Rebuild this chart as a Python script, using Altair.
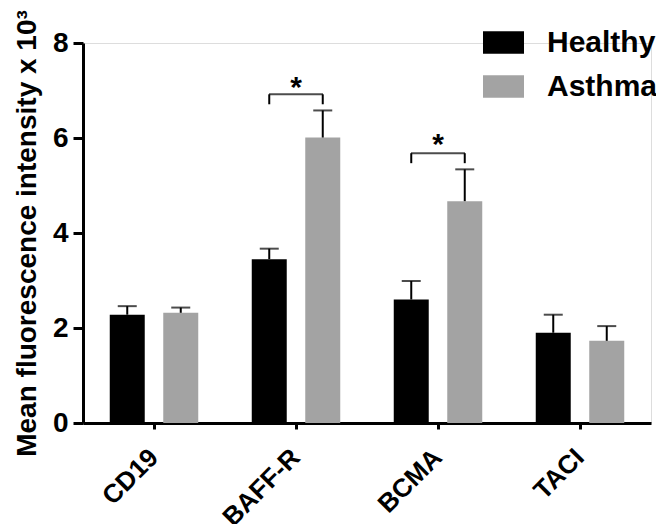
import altair as alt
import pandas as pd

categories = ["CD19", "BAFF-R", "BCMA", "TACI"]
groups = ["Healthy", "Asthma"]
healthy_mean = [2.28, 3.45, 2.60, 1.90]
healthy_err = [0.18, 0.22, 0.39, 0.38]
asthma_mean = [2.32, 6.01, 4.67, 1.73]
asthma_err = [0.11, 0.57, 0.67, 0.31]

sig_categories = ["BAFF-R", "BCMA"]
bracket_top = [6.92, 5.68]
bracket_bottom = [6.71, 5.47]
star_y = [7.22, 6.03]

rows = []
for i, c in enumerate(categories):
    rows.append({"category": c, "group": "Healthy", "mean": healthy_mean[i],
                 "upper": healthy_mean[i] + healthy_err[i]})
    rows.append({"category": c, "group": "Asthma", "mean": asthma_mean[i],
                 "upper": asthma_mean[i] + asthma_err[i]})
df = pd.DataFrame(rows)

leg_rows = []
for i, c in enumerate(sig_categories):
    for g in groups:
        leg_rows.append({"category": c, "group": g, "top": bracket_top[i], "bottom": bracket_bottom[i]})
legs = pd.DataFrame(leg_rows)
bars_df = pd.DataFrame({"category": sig_categories, "top": bracket_top})
stars_df = pd.DataFrame({"category": sig_categories, "star": star_y, "label": ["*", "*"]})

FONT = "Liberation Sans"
TITLE = "Mean fluorescence intensity x 10³"

x_enc = alt.X(
    "category:N", sort=categories,
    scale=alt.Scale(paddingInner=0, paddingOuter=0),
    axis=alt.Axis(title=None, labelAngle=-45, labelAlign="right", labelBaseline="middle",
                  labelFontSize=26, labelFont=FONT, labelFontWeight="bold", labelColor="black",
                  labelPadding=24, tickSize=6, tickWidth=3, tickColor="black",
                  domainWidth=3, domainColor="black"),
)
xo_enc = alt.XOffset("group:N", sort=groups,
                     scale=alt.Scale(domain=groups, paddingInner=0.346, paddingOuter=0.5))


def y_enc(field):
    return alt.Y(
        f"{field}:Q",
        scale=alt.Scale(domain=[0, 8], nice=False),
        axis=alt.Axis(values=[0, 2, 4, 6, 8], title=TITLE, grid=False,
                      titleFont=FONT, titleFontSize=28, titleFontWeight="bold", titleColor="black",
                      titlePadding=11,
                      labelFont=FONT, labelFontSize=28, labelFontWeight="bold", labelColor="black",
                      labelPadding=5, tickSize=10, tickWidth=3, tickColor="black",
                      domainWidth=3, domainColor="black"),
    )


bars = alt.Chart(df).mark_bar().encode(
    x=x_enc, xOffset=xo_enc, y=y_enc("mean"),
    color=alt.Color("group:N", sort=groups,
                    scale=alt.Scale(domain=groups, range=["#000000", "#a3a3a3"]),
                    legend=alt.Legend(title=None, orient="none", legendX=400, legendY=-21,
                                      symbolType="M-1,-0.55H1V0.55H-1Z", symbolSize=1681,
                                      symbolStrokeWidth=0, labelFont=FONT, labelFontSize=30,
                                      labelFontWeight="bold", labelColor="black",
                                      labelOffset=23, rowPadding=8, padding=0)),
)

err_stem = alt.Chart(df).mark_rule(color="black", strokeWidth=2).encode(
    x=x_enc, xOffset=xo_enc, y=y_enc("mean"), y2="upper:Q",
)
err_cap = alt.Chart(df).mark_tick(color="black", orient="horizontal", size=19, thickness=2).encode(
    x=x_enc, xOffset=xo_enc, y=y_enc("upper"),
)
br_legs = alt.Chart(legs).mark_rule(color="black", strokeWidth=2).encode(
    x=x_enc, xOffset=xo_enc, y=y_enc("top"), y2="bottom:Q",
)
br_bar = alt.Chart(bars_df).mark_tick(color="black", orient="horizontal", size=54, thickness=2).encode(
    x=x_enc, y=y_enc("top"),
)
stars = alt.Chart(stars_df).mark_text(font=FONT, fontSize=30, fontWeight="bold", color="black",
                                      baseline="alphabetic", dy=17).encode(
    x=x_enc, y=y_enc("star"), text="label:N",
)

chart = alt.layer(bars, err_stem, err_cap, br_legs, br_bar, stars).properties(
    width=568, height=380,
    autosize=alt.AutoSizeParams(type="none"),
    padding={"left": 75, "top": 35, "right": 5, "bottom": 101},
).configure_view(stroke=None).configure(background="white")

chart.save("out.html", embed_options={"renderer": "svg", "actions": False})
